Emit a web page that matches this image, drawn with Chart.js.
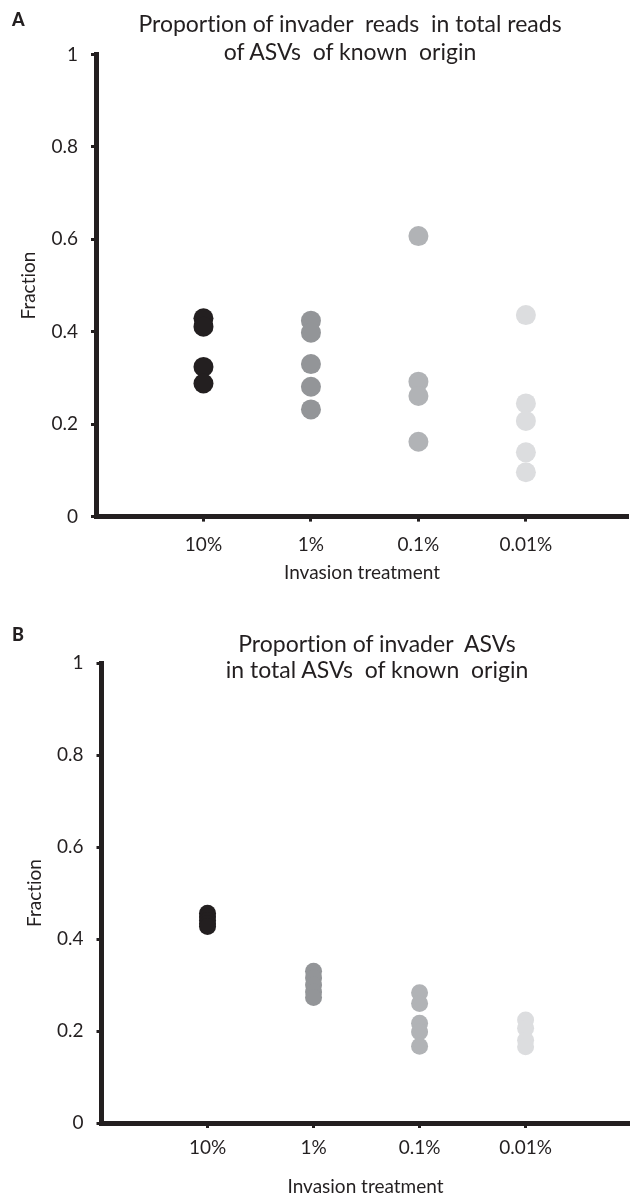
<!DOCTYPE html>
<html>
<head>
<meta charset="utf-8">
<script src="https://cdn.jsdelivr.net/npm/chart.js@4"></script>
<style>
  html, body { margin: 0; padding: 0; background: #ffffff; }
  body { width: 638px; height: 1198px; position: relative; overflow: hidden; font-family: Lato, "Open Sans", sans-serif; color: #231f20; font-variant-ligatures: none; }
  .panel { position: absolute; left: 0; width: 638px; }
  .letter { position: absolute; font-weight: 900; font-size: 18px; line-height: 18px; }
  .title { position: absolute; width: 638px; text-align: center; font-size: 23px; line-height: 23px; white-space: pre; }
  canvas { display: block; }
</style>
</head>
<body>
<div class="panel" style="top:0;height:600px;"><canvas id="chartA" width="638" height="600"></canvas></div>
<div class="panel" style="top:600px;height:598px;"><canvas id="chartB" width="638" height="598"></canvas></div>
<div class="letter" style="left:12px;top:10px;">A</div>
<div class="letter" style="left:12px;top:625px;">B</div>
<div id="titleA1" class="title"></div>
<div id="titleA2" class="title"></div>
<div id="titleB1" class="title"></div>
<div id="titleB2" class="title"></div>
<script>
// ---- data ----
const categories = ['10%', '1%', '0.1%', '0.01%'];
const colors = ['#231f20', '#939598', '#b1b3b6', '#dcdddf'];

// Panel A: proportion of invader reads
const readsA_10 = [0.429, 0.411, 0.324, 0.288];
const readsA_1 = [0.424, 0.398, 0.330, 0.281, 0.232];
const readsA_01 = [0.607, 0.292, 0.261, 0.162];
const readsA_001 = [0.436, 0.245, 0.207, 0.139, 0.096];

// Panel B: proportion of invader ASVs
const asvB_10 = [0.456, 0.448, 0.440, 0.433, 0.427];
const asvB_1 = [0.330, 0.315, 0.300, 0.285, 0.273];
const asvB_01 = [0.283, 0.260, 0.217, 0.198, 0.167];
const asvB_001 = [0.224, 0.206, 0.180, 0.166];

const yTicks = [0, 0.2, 0.4, 0.6, 0.8, 1];
const titleA = ['Proportion of invader  reads  in total reads', 'of ASVs  of known  origin'];
const titleB = ['Proportion of invader  ASVs', 'in total ASVs  of known  origin'];
const yTitle = 'Fraction';
const xTitle = 'Invasion treatment';

// ---- titles (HTML text) ----
function placeTitle(id, text, cx, cy) {
  const el = document.getElementById(id);
  el.textContent = text;
  el.style.left = (cx - 319) + 'px';
  el.style.top = (cy - 11.5) + 'px';
}
placeTitle('titleA1', titleA[0], 350, 23);
placeTitle('titleA2', titleA[1], 350, 51);
placeTitle('titleB1', titleB[0], 377, 643);
placeTitle('titleB2', titleB[1], 377, 669);

const INK = '#231f20';
const FONT = 'Lato';

function buildDatasets(groups, radius) {
  return groups.map((vals, i) => ({
    label: categories[i],
    data: vals.map(v => ({ x: i + 1, y: v })),
    backgroundColor: colors[i],
    borderWidth: 0,
    pointRadius: radius,
    pointHoverRadius: radius
  }));
}

function makeChart(id, groups, opt) {
  const ctx = document.getElementById(id);
  return new Chart(ctx, {
    type: 'scatter',
    data: { datasets: buildDatasets(groups, opt.radius) },
    options: {
      responsive: false,
      animation: false,
      events: [],
      layout: { padding: { top: opt.top, left: 0, right: 0, bottom: 0 } },
      plugins: { legend: { display: false }, tooltip: { enabled: false }, title: { display: false } },
      scales: {
        x: {
          type: 'linear',
          min: 0,
          max: opt.xMax,
          afterBuildTicks: (s) => { s.ticks = categories.map((c, i) => ({ value: i + 1 })); },
          afterFit: (s) => { s.height = opt.xHeight; },
          ticks: {
            autoSkip: false,
            maxRotation: 0,
            padding: opt.xPad,
            color: INK,
            font: { family: FONT, size: 19 },
            callback: (v) => categories[v - 1]
          },
          grid: { drawOnChartArea: false, drawTicks: true, tickLength: 5, tickWidth: 3, tickColor: INK },
          border: { display: true, color: INK, width: 5 },
          title: { display: true, text: xTitle, color: INK, font: { family: FONT, size: 19 }, padding: { top: 0, bottom: opt.xTitlePad } }
        },
        y: {
          type: 'linear',
          min: 0,
          max: 1,
          afterBuildTicks: (s) => { s.ticks = yTicks.map(v => ({ value: v })); },
          afterFit: (s) => { s.width = opt.left; },
          ticks: {
            padding: 13,
            color: INK,
            font: { family: FONT, size: 19 },
            callback: (v) => String(v)
          },
          grid: { drawOnChartArea: false, drawTicks: true, tickLength: 5, tickWidth: 3, tickColor: INK },
          border: { display: true, color: INK, width: 5 },
          title: { display: true, text: yTitle, color: INK, font: { family: FONT, size: 19 }, padding: { top: opt.yTitlePad, bottom: 0 } }
        }
      }
    }
  });
}

makeChart('chartA', [readsA_10, readsA_1, readsA_01, readsA_001], {
  radius: 10, top: 54.5, left: 96, xMax: 4.95, xHeight: 600 - 516.6, xPad: 12, xTitlePad: 15.6, yTitlePad: 17.6
});
makeChart('chartB', [asvB_10, asvB_1, asvB_01, asvB_001], {
  radius: 8.5, top: 63, left: 101.5, xMax: 4.98, xHeight: 598 - 523, xPad: 8.6, xTitlePad: 0, yTitlePad: 23.6
});
</script>
</body>
</html>
